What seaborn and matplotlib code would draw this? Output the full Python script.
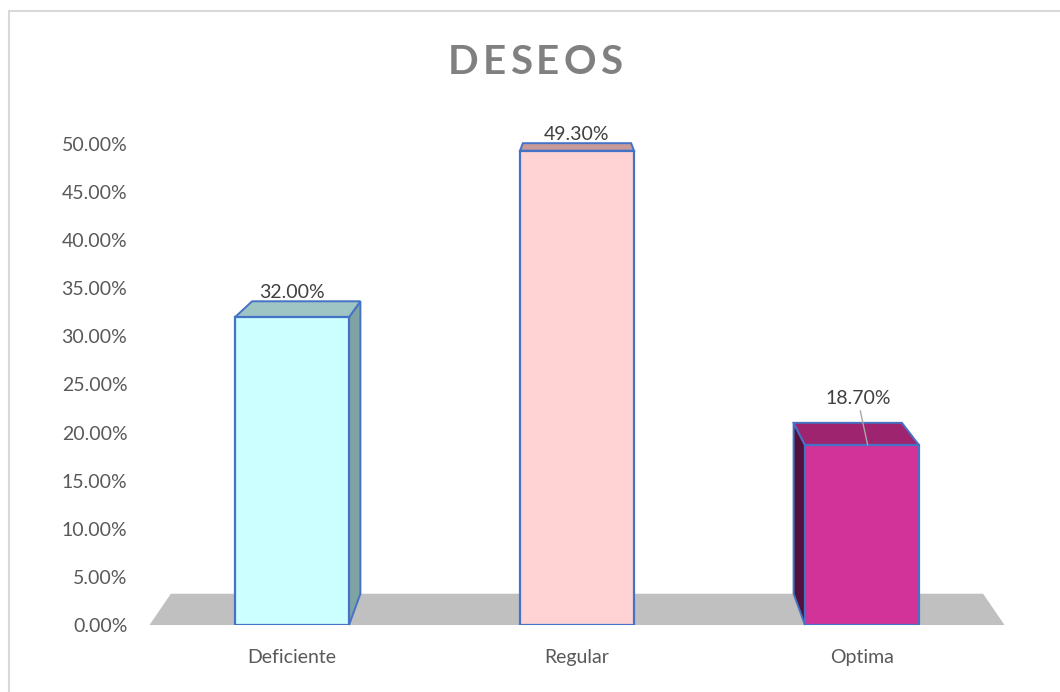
import matplotlib
matplotlib.use('Agg')
import matplotlib.pyplot as plt
import seaborn as sns
from matplotlib.patches import Polygon
from matplotlib.lines import Line2D

# datos
categorias = ['Deficiente', 'Regular', 'Optima']
porcentajes = [32.00, 49.30, 18.70]
etiquetas = ['32.00%', '49.30%', '18.70%']
color_frente = ['#CCFFFF', '#FFD3D3', '#D23399']
color_lado = ['#7FA3A3', '#B88C8C', '#52113D']
color_tapa = ['#9FC4C4', '#C89A9A', '#9E2470']
titulo = 'DESEOS'

sns.set_theme(style='white')
plt.rcParams['font.family'] = ['Lato', 'DejaVu Sans']

fig = plt.figure(figsize=(10.6, 6.92), dpi=100)
ax = fig.add_axes([149.5/1060, 67/692, 855/1060, 481/692])

sns.barplot(x=categorias, y=porcentajes, hue=categorias, palette=color_frente,
            saturation=1, legend=False, width=0.4, edgecolor='#4472C4',
            linewidth=1.6, ax=ax)
ax.set_xlim(-0.5, 2.5)
ax.set_ylim(0, 50)

# perspectiva: fondo = V + k*(frente - V)
vx, vy, k = 1.0, 65.0, 0.95
def fondo(x, y):
    return (vx + k*(x - vx), vy + k*(y - vy))

barras = list(ax.patches)

# piso gris
x0, x1 = ax.get_xlim()
ax.add_patch(Polygon([(x0, 0), (x1, 0), fondo(x1, 0), fondo(x0, 0)], closed=True,
                     facecolor='#C0C0C0', edgecolor='none', zorder=0.5, clip_on=False))

ec = '#4472C4'
for i, p in enumerate(barras):
    p.set_zorder(3)
    bx0 = p.get_x()
    bx1 = bx0 + p.get_width()
    h = p.get_height()
    cx = bx0 + p.get_width()/2
    if cx < vx - 0.01:
        lado = [(bx1, 0), (bx1, h), fondo(bx1, h), fondo(bx1, 0)]
    elif cx > vx + 0.01:
        lado = [(bx0, 0), (bx0, h), fondo(bx0, h), fondo(bx0, 0)]
    else:
        lado = None
    if lado:
        ax.add_patch(Polygon(lado, closed=True, facecolor=color_lado[i], edgecolor=ec,
                             linewidth=1.4, zorder=2, clip_on=False))
    tapa = [(bx0, h), (bx1, h), fondo(bx1, h), fondo(bx0, h)]
    ax.add_patch(Polygon(tapa, closed=True, facecolor=color_tapa[i], edgecolor=ec,
                         linewidth=1.4, zorder=2, clip_on=False))
    top_y = fondo(cx, h)[1]
    if i == 2:
        ax.annotate(etiquetas[i], xy=(cx + 0.02, h), xytext=(cx - 0.015, top_y + 1.6),
                    ha='center', va='bottom', fontsize=14, color='#404040',
                    arrowprops=dict(arrowstyle='-', color='#A6A6A6', lw=1,
                                    shrinkA=0, shrinkB=0))
    else:
        ax.text(cx, top_y, etiquetas[i], ha='center', va='bottom',
                fontsize=14, color='#404040')

ax.set_yticks([0, 5, 10, 15, 20, 25, 30, 35, 40, 45, 50])
ax.set_yticklabels(['%.2f%%' % v for v in ax.get_yticks()])
ax.tick_params(axis='y', length=0, pad=16, labelsize=14, labelcolor='#595959')
ax.tick_params(axis='x', length=0, pad=17, labelsize=14, labelcolor='#595959')
ax.set_xlabel('')
ax.set_ylabel('')
sns.despine(ax=ax, left=True, bottom=True)
ax.grid(False)

# titulo con espaciado entre letras
renderer = fig.canvas.get_renderer()
anchos = []
for c in titulo:
    t = fig.text(0, 0, c, fontsize=29, fontweight='bold')
    anchos.append(t.get_window_extent(renderer).width)
    t.remove()
esp = 4.0
total = sum(anchos) + esp*(len(titulo) - 1)
xpos = 535 - total/2
for c, w in zip(titulo, anchos):
    fig.text(xpos/1060, 1 - 62/692, c, ha='left', va='center',
             fontsize=29, fontweight='bold', color='#808080')
    xpos += w + esp

# borde del grafico
fig.add_artist(Line2D([8.5/1060, 1], [1 - 10.5/692, 1 - 10.5/692], color='#D9D9D9', lw=1.5))
fig.add_artist(Line2D([8.5/1060, 8.5/1060], [0, 1 - 10.5/692], color='#D9D9D9', lw=1.5))

fig.savefig('out.png', dpi=100, facecolor='white')
